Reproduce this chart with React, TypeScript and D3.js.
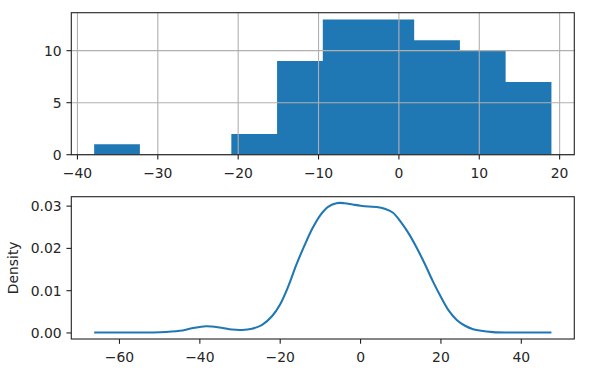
import React from 'react';
import * as d3 from 'd3';

// histogram (top panel)
const binEdges = [-37.92, -32.23, -26.54, -20.85, -15.16, -9.47, -3.79, 1.9, 7.59, 13.28, 18.98];
const binCounts = [1, 0, 0, 2, 9, 13, 13, 11, 10, 7];
const histXTicks = [-40, -30, -20, -10, 0, 10, 20];
const histYTicks = [0, 5, 10];

// kernel density (bottom panel)
const kdeX = [-66.3, -60, -55, -50, -45, -42, -38.5, -35, -32, -29.5, -27, -24.5, -22, -20, -18, -16, -14, -12, -10, -8, -6, -4, -2, 0, 2, 4, 6, 8, 10, 12, 14, 16, 18, 20, 22, 24, 26, 28, 30, 33, 36, 40, 47.5];
const kdeY = [0.0001, 0.0001, 0.0001, 0.00015, 0.0005, 0.0011, 0.0016, 0.0013, 0.0008, 0.0007, 0.001, 0.0019, 0.004, 0.0068, 0.011, 0.0161, 0.0206, 0.0247, 0.0279, 0.0299, 0.0307, 0.0307, 0.0304, 0.0301, 0.0299, 0.0298, 0.0294, 0.0285, 0.0263, 0.0235, 0.0201, 0.0163, 0.0122, 0.0085, 0.0052, 0.003, 0.0017, 0.0009, 0.0005, 0.0002, 0.0001, 0.0001, 0.0001];
const kdeXTicks = [-60, -40, -20, 0, 20, 40];
const kdeYTicks = [0, 0.01, 0.02, 0.03];

const W = 595;
const H = 372;
const FONT = 'DejaVu Sans, sans-serif';
const FS = 13.9;
const BLUE = '#1f77b4';
const TICK = 4.86;
const LW = 1.1;

const fmtMinus = (s: string) => s.replace('-', '\u2212');

const pad = (lo: number, hi: number): [number, number] => {
  const w = hi - lo;
  return [lo - 0.05 * w, hi + 0.05 * w];
};

const App: React.FC = () => {
  const left = 71.3;
  const right = 574.3;

  // top panel
  const t = { top: 12.7, bottom: 154.7 };
  const hx = d3.scaleLinear().domain(pad(binEdges[0], binEdges[binEdges.length - 1])).range([left, right]);
  const hy = d3.scaleLinear().domain([0, (d3.max(binCounts) || 1) * 1.05]).range([t.bottom, t.top]);
  // one stepped shape so neighbouring bars show no seams
  const stepCounts = [...binCounts, binCounts[binCounts.length - 1]];
  const histArea = d3.area<number>()
    .x((_, i) => hx(binEdges[i]))
    .y0(hy(0))
    .y1(d => hy(d))
    .curve(d3.curveStepAfter);

  // bottom panel
  const b = { top: 196.7, bottom: 339 };
  const kx = d3.scaleLinear().domain(pad(d3.min(kdeX)!, d3.max(kdeX)!)).range([left, right]);
  const ky = d3.scaleLinear().domain(pad(d3.min(kdeY)!, d3.max(kdeY)!)).range([b.bottom, b.top]);
  const line = d3.line<number>()
    .x((_, i) => kx(kdeX[i]))
    .y(d => ky(d))
    .curve(d3.curveCatmullRom.alpha(0.5));

  const txt = { fontFamily: FONT, fontSize: FS, fill: '#262626' } as const;

  return (
    <svg width={W} height={H} style={{ position: 'absolute', left: 0, top: 0, background: '#fff' }}>
      {/* ---- top: histogram ---- */}
      <g>
        <path d={histArea(stepCounts) || ''} fill={BLUE} />
        {histXTicks.map(v => (
          <line key={'gx' + v} x1={hx(v)} x2={hx(v)} y1={t.top} y2={t.bottom} stroke="#b0b0b0" strokeWidth={LW} />
        ))}
        {histYTicks.map(v => (
          <line key={'gy' + v} x1={left} x2={right} y1={hy(v)} y2={hy(v)} stroke="#b0b0b0" strokeWidth={LW} />
        ))}
        <rect x={left} y={t.top} width={right - left} height={t.bottom - t.top} fill="none" stroke="#222" strokeWidth={LW} />
        {histXTicks.map(v => (
          <g key={'tx' + v}>
            <line x1={hx(v)} x2={hx(v)} y1={t.bottom} y2={t.bottom + TICK} stroke="#222" strokeWidth={LW} />
            <text x={hx(v)} y={t.bottom + 23} textAnchor="middle" {...txt}>{fmtMinus(String(v))}</text>
          </g>
        ))}
        {histYTicks.map(v => (
          <g key={'ty' + v}>
            <line x1={left - TICK} x2={left} y1={hy(v)} y2={hy(v)} stroke="#222" strokeWidth={LW} />
            <text x={left - 2 * TICK} y={hy(v)} dy="0.36em" textAnchor="end" {...txt}>{v}</text>
          </g>
        ))}
      </g>

      {/* ---- bottom: density ---- */}
      <g>
        <path d={line(kdeY) || ''} fill="none" stroke={BLUE} strokeWidth={2.08} />
        <rect x={left} y={b.top} width={right - left} height={b.bottom - b.top} fill="none" stroke="#222" strokeWidth={LW} />
        {kdeXTicks.map(v => (
          <g key={'kx' + v}>
            <line x1={kx(v)} x2={kx(v)} y1={b.bottom} y2={b.bottom + TICK} stroke="#222" strokeWidth={LW} />
            <text x={kx(v)} y={b.bottom + 23} textAnchor="middle" {...txt}>{fmtMinus(String(v))}</text>
          </g>
        ))}
        {kdeYTicks.map(v => (
          <g key={'ky' + v}>
            <line x1={left - TICK} x2={left} y1={ky(v)} y2={ky(v)} stroke="#222" strokeWidth={LW} />
            <text x={left - 2 * TICK} y={ky(v)} dy="0.36em" textAnchor="end" {...txt}>{d3.format('.2f')(v)}</text>
          </g>
        ))}
        <text transform={`translate(17.5,${(b.top + b.bottom) / 2}) rotate(-90)`} textAnchor="middle" {...txt}>Density</text>
      </g>
    </svg>
  );
};

export default App;
